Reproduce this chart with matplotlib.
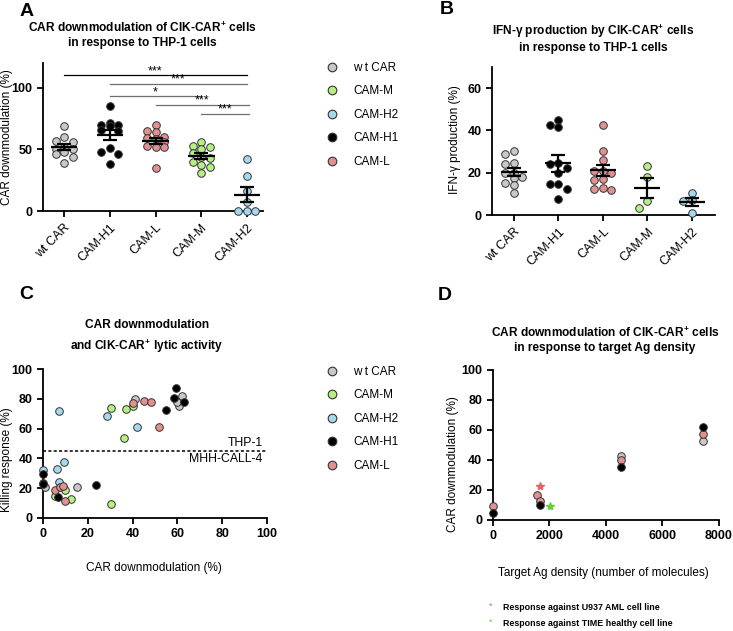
import numpy as np
import matplotlib
matplotlib.use('Agg')
import matplotlib.pyplot as plt
from matplotlib.lines import Line2D

plt.rcParams['font.family'] = ['Liberation Sans', 'DejaVu Sans']
plt.rcParams['mathtext.fontset'] = 'custom'
plt.rcParams['mathtext.rm'] = 'Liberation Sans'
plt.rcParams['mathtext.bf'] = 'Liberation Sans:bold'

# ---- data ----
groups = ['wt CAR', 'CAM-H1', 'CAM-L', 'CAM-M', 'CAM-H2']
legend_order = ['wt CAR', 'CAM-M', 'CAM-H2', 'CAM-H1', 'CAM-L']
legend_labels = ['w t CAR', 'CAM-M', 'CAM-H2', 'CAM-H1', 'CAM-L']
colors = {'wt CAR': '#c8c8c8', 'CAM-M': '#b4f082', 'CAM-H2': '#a6d8f0',
          'CAM-H1': '#000000', 'CAM-L': '#e29191'}

# A: CAR downmodulation (%)
downmod_wt = [69, 60, 57, 56, 52, 50, 50, 48, 46, 44, 39]
downmod_h1 = [85, 71, 70, 70, 69, 66, 65, 51, 48, 46, 38]
downmod_l = [70, 65, 64, 60, 59, 58, 56, 53, 52, 52, 35]
downmod_m = [56, 53, 52, 50, 47, 44, 43, 40, 37, 36, 31]
downmod_h2 = [42, 28, 16, 7, 0, 0, 0]
sig_from = [0, 1, 1, 2, 3]
sig_to = [4, 4, 3, 4.05, 4.05]
sig_height = [110, 103, 93, 86, 79]
sig_text = ['***', '***', '*', '***', '***']

# B: IFN-gamma production (%)
ifng_wt = [30.5, 29, 24.5, 24, 20, 20, 18, 17.5, 15, 14, 10.5]
ifng_h1 = [45, 42.5, 41.5, 24.5, 24, 22, 20, 14.5, 14.5, 12.5, 7.5]
ifng_l = [42.5, 30.5, 26, 21, 21, 20, 17, 16.5, 13, 12.5, 12]
ifng_m = [23, 18, 6.5, 3.5]
ifng_h2 = [10.5, 7, 6.5, 1]

# C: CAR downmodulation vs killing response
kill_x_wt = [41, 62, 60.5, 60, 15, 1]
kill_y_wt = [80, 82, 75, 78, 21, 21]
kill_x_m = [30.5, 37, 40, 36.3, 10, 12.3, 5.3, 30.3]
kill_y_m = [73.8, 73, 75.5, 54, 19, 12.8, 15, 9.3]
kill_x_h2 = [7.2, 28.7, 42.1, 9.3, 6.1, 0.2, 7]
kill_y_h2 = [72, 68.5, 61, 37.5, 33, 32.5, 24.2]
kill_x_h1 = [59.5, 58.5, 63, 55, 23.5, 6.6, 0.2, 0.2, 0]
kill_y_h1 = [87, 80.5, 78, 72.5, 22, 13.8, 29.7, 23.5, 22.5]
kill_x_l = [40, 45, 48, 52, 5.4, 7.8, 9, 10]
kill_y_l = [77, 78.5, 78, 61, 18.5, 20.5, 21.5, 11.2]
threshold = 45

# D: CAR downmodulation vs target Ag density
dens_x_wt = [4545, 7420]
dens_y_wt = [42.7, 52.9]
dens_x_l = [0, 1576, 1671, 4545, 7420]
dens_y_l = [9.6, 16.4, 12.7, 40, 57.3]
dens_x_h1 = [0, 1671, 4545, 7420]
dens_y_h1 = [4.9, 10.2, 35.6, 61.8]
u937_x, u937_y = 1671, 22.7
time_x, time_y = 2025, 9.6

W, H = 733, 631
fig = plt.figure(figsize=(W / 100, H / 100), dpi=100)


def rect(l, t, r, b):
    return [l / W, 1 - b / H, (r - l) / W, (b - t) / H]


def fx(x):
    return x / W


def fy(y):
    return 1 - y / H


def style(ax, boldx=False):
    for s in ['top', 'right']:
        ax.spines[s].set_visible(False)
    for s in ['left', 'bottom']:
        ax.spines[s].set_linewidth(1.3)
    ax.tick_params(direction='out', length=4, width=1.3, labelsize=9)
    for t in ax.get_yticklabels():
        t.set_fontweight('bold')
    if boldx:
        for t in ax.get_xticklabels():
            t.set_fontweight('bold')


def swarm(vals, ax, d=8.5):
    # GraphPad-like column scatter: at most three columns, overlap allowed
    (x0, y0), (x1, y1) = ax.transData.transform([(0, 0), (1, 1)])
    sx, sy = x1 - x0, y1 - y0
    vals = np.asarray(vals, float)
    order = np.argsort(-vals, kind='stable')
    placed = []
    offs = np.zeros(len(vals))
    for i in order:
        yv = vals[i] * sy
        best, best_gap = 0.0, -1.0
        for k in [0, -1, 1]:
            ox = k * d
            gap = min([np.hypot(ox - px, yv - py) for px, py in placed] + [99.0])
            if gap >= 0.8 * d:
                best = ox
                break
            if gap > best_gap:
                best, best_gap = ox, gap
        placed.append((best, yv))
        offs[i] = best / sx
    return offs


def dotplot(ax, data):
    for i, (g, vals) in enumerate(zip(groups, data)):
        offs = swarm(vals, ax)
        ax.scatter(i + offs, vals, s=30, color=colors[g], edgecolor='#333333',
                   linewidth=0.7, zorder=3, clip_on=False)
        m = np.mean(vals)
        sem = np.std(vals, ddof=1) / np.sqrt(len(vals))
        ax.hlines(m, i - 0.29, i + 0.29, color='black', lw=1.6, zorder=4)
        ax.errorbar(i, m, yerr=sem, fmt='none', ecolor='black', elinewidth=1.6,
                    capsize=5, capthick=1.6, zorder=4)
    ax.set_xticks(range(len(groups)))
    ax.set_xticklabels(groups, rotation=45, ha='right', rotation_mode='anchor', fontsize=9)


legend_handles = [Line2D([], [], marker='o', linestyle='none', markersize=6.2,
                         markerfacecolor=colors[g], markeredgecolor='#333333',
                         markeredgewidth=0.8, label=lab)
                  for g, lab in zip(legend_order, legend_labels)]

# ---- A ----
axA = fig.add_axes(rect(43, 63, 263, 211))
axA.set_xlim(-0.46, 4.35)
axA.set_ylim(0, 120)
axA.set_yticks([0, 50, 100])
dotplot(axA, [downmod_wt, downmod_h1, downmod_l, downmod_m, downmod_h2])
for k, (a, b, h, t) in enumerate(zip(sig_from, sig_to, sig_height, sig_text)):
    c = 'black' if k == 0 else '#6e6e6e'
    axA.plot([a, b], [h, h], color=c, lw=0.9)
    axA.text((a + b) / 2, h - 1.5, t, ha='center', va='bottom', fontsize=9)
axA.set_ylabel('CAR downmodulation (%)', fontsize=8.5, va='center')
axA.yaxis.set_label_coords(-0.165, 0.5)
style(axA)
fig.text(fx(142), fy(35), 'CAR downmodulation of CIK-CAR$^{\\mathbf{+}}$ cells\nin response to THP-1 cells',
         ha='center', va='center', fontsize=8.6, fontweight='bold', linespacing=1.25)
fig.text(fx(27), fy(12), 'A', ha='center', va='center', fontsize=14, fontweight='bold')

# ---- B ----
axB = fig.add_axes(rect(492, 67, 715, 215))
axB.set_xlim(-0.49, 4.52)
axB.set_ylim(0, 70)
axB.set_yticks([0, 20, 40, 60])
dotplot(axB, [ifng_wt, ifng_h1, ifng_l, ifng_m, ifng_h2])
axB.set_ylabel('IFN-γ production (%)', fontsize=8.5, va='center')
axB.yaxis.set_label_coords(-0.166, 0.51)
style(axB)
fig.text(fx(593), fy(38), 'IFN-γ production by CIK-CAR$^{\\mathbf{+}}$ cells\nin response to THP-1 cells',
         ha='center', va='center', fontsize=8.6, fontweight='bold', linespacing=1.25)
fig.text(fx(447), fy(10), 'B', ha='center', va='center', fontsize=14, fontweight='bold')

# legend between A and B
fig.legend(handles=legend_handles, loc='upper left', bbox_to_anchor=(fx(326), fy(62)),
           frameon=False, fontsize=8.5, handlelength=1.0, handletextpad=1.3,
           labelspacing=0.97, borderpad=0, borderaxespad=0)

# ---- C ----
axC = fig.add_axes(rect(43, 369, 267, 518))
axC.set_xlim(0, 100)
axC.set_ylim(0, 100)
axC.set_xticks(range(0, 101, 20))
axC.set_yticks(range(0, 101, 20))
for g, xs, ys in [('wt CAR', kill_x_wt, kill_y_wt), ('CAM-M', kill_x_m, kill_y_m),
                  ('CAM-H2', kill_x_h2, kill_y_h2), ('CAM-H1', kill_x_h1, kill_y_h1),
                  ('CAM-L', kill_x_l, kill_y_l)]:
    axC.scatter(xs, ys, s=30, color=colors[g], edgecolor='#333333', linewidth=0.7,
                zorder=3, clip_on=False)
axC.axhline(threshold, color='black', lw=1.1, ls=(0, (2, 1.5)))
axC.text(98, threshold + 1.5, 'THP-1', ha='right', va='bottom', fontsize=8.8)
axC.text(98, threshold - 1.5, 'MHH-CALL-4', ha='right', va='top', fontsize=8.8)
axC.set_xlabel('CAR downmodulation (%)', fontsize=8.5, va='center')
axC.xaxis.set_label_coords(0.496, -0.336)
axC.set_ylabel('Killing response (%)', fontsize=8.5, va='center')
axC.yaxis.set_label_coords(-0.161, 0.39)
style(axC, boldx=True)
fig.text(fx(147), fy(337), 'CAR downmodulation\nand CIK-CAR$^{\\mathbf{+}}$ lytic activity',
         ha='center', va='center', fontsize=8.6, fontweight='bold', linespacing=1.45)
fig.text(fx(26), fy(294), 'C', ha='center', va='center', fontsize=14, fontweight='bold')

fig.legend(handles=legend_handles, loc='upper left', bbox_to_anchor=(fx(326), fy(366)),
           frameon=False, fontsize=8.5, handlelength=1.0, handletextpad=1.3,
           labelspacing=0.97, borderpad=0, borderaxespad=0)

# ---- D ----
axD = fig.add_axes(rect(492.7, 370, 719, 520))
axD.set_xlim(0, 8000)
axD.set_ylim(0, 100)
axD.set_xticks(range(0, 8001, 2000))
axD.set_yticks(range(0, 101, 20))
for g, xs, ys in [('wt CAR', dens_x_wt, dens_y_wt), ('CAM-L', dens_x_l, dens_y_l),
                  ('CAM-H1', dens_x_h1, dens_y_h1)]:
    axD.scatter(xs, ys, s=30, color=colors[g], edgecolor='#333333', linewidth=0.7,
                zorder=3, clip_on=False)
axD.plot([u937_x], [u937_y], marker='*', color='#e06666', markersize=6, linestyle='none')
axD.plot([time_x], [time_y], marker='*', color='#66cc44', markersize=6, linestyle='none')
axD.set_xlabel('Target Ag density (number of molecules)', fontsize=8.5, va='center')
axD.xaxis.set_label_coords(0.487, -0.353)
axD.set_ylabel('CAR downmodulation (%)', fontsize=8.5, va='center')
axD.yaxis.set_label_coords(-0.175, 0.37)
style(axD, boldx=True)
fig.text(fx(605), fy(340), 'CAR downmodulation of CIK-CAR$^{\\mathbf{+}}$ cells\nin response to target Ag density',
         ha='center', va='center', fontsize=8.6, fontweight='bold', linespacing=1.25)
fig.text(fx(445), fy(295), 'D', ha='center', va='center', fontsize=14, fontweight='bold')

fig.text(fx(491), fy(606), '*', color='#e06666', ha='center', va='center', fontsize=6.5)
fig.text(fx(503), fy(607), 'Response against U937 AML cell line', ha='left', va='center',
         fontsize=6.4, fontweight='bold')
fig.text(fx(491), fy(622), '*', color='#66cc44', ha='center', va='center', fontsize=6.5)
fig.text(fx(503), fy(623), 'Response against TIME healthy cell line', ha='left', va='center',
         fontsize=6.4, fontweight='bold')

fig.savefig('out.png', dpi=100)
